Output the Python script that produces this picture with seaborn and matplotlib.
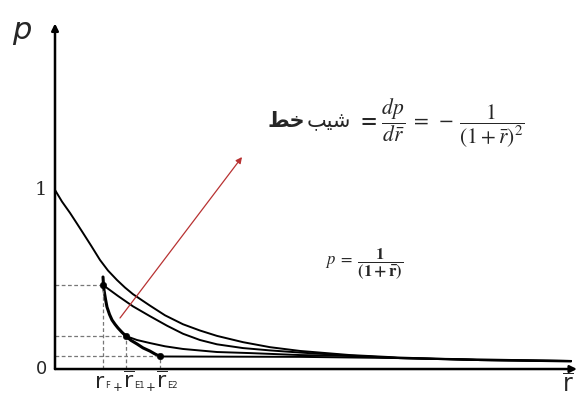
import numpy as np
import pandas as pd
import matplotlib
matplotlib.use("Agg")
import matplotlib.pyplot as plt
import seaborn as sns

# values (r in arbitrary units, p in units of p0)
main_r = [0.00, 0.07, 0.15, 0.22, 0.28, 0.36, 0.45, 0.53, 0.62, 0.70, 0.78,
          0.87, 0.95, 1.10, 1.28, 1.45, 1.62, 1.88, 2.15, 2.45, 2.95, 3.45,
          4.25, 5.16]
main_p = [1.000, 0.935, 0.872, 0.812, 0.760, 0.690, 0.609, 0.550, 0.497,
          0.455, 0.418, 0.384, 0.354, 0.300, 0.250, 0.215, 0.185, 0.150,
          0.122, 0.101, 0.078, 0.064, 0.050, 0.042]

f_r = [0.48, 0.63, 0.78, 0.95, 1.12, 1.28, 1.45, 1.62, 1.88, 2.15, 2.45,
       2.95, 3.45, 4.25, 5.16]
f_p = [0.469, 0.408, 0.350, 0.295, 0.242, 0.197, 0.162, 0.138, 0.117,
       0.104, 0.092, 0.075, 0.061, 0.050, 0.045]

e1_r = [0.71, 0.82, 0.95, 1.10, 1.28, 1.62, 1.95, 2.45, 2.95, 3.45, 4.25,
        5.16]
e1_p = [0.184, 0.162, 0.145, 0.127, 0.112, 0.095, 0.089, 0.078, 0.073,
        0.061, 0.050, 0.045]

e2_r = [1.05, 2.45, 3.45, 5.16]
e2_p = [0.070, 0.068, 0.061, 0.045]

thick_r = [0.48, 0.485, 0.49, 0.505, 0.52, 0.545, 0.57, 0.60, 0.63, 0.67,
           0.71, 0.76, 0.82, 0.88, 0.95, 1.00, 1.05]
thick_p = [0.514, 0.470, 0.441, 0.390, 0.346, 0.305, 0.274, 0.250, 0.229,
           0.205, 0.184, 0.160, 0.140, 0.118, 0.100, 0.084, 0.070]

pts_r = [0.48, 0.71, 1.05]
pts_p = [0.469, 0.184, 0.070]
lab_pre = ["", "+", "+"]
lab_main = [r"$\mathrm{r}$", r"$\overline{\mathrm{r}}$", r"$\overline{\mathrm{r}}$"]
lab_sub = ["F", "E1", "E2"]
lab_shift = [-2.2, 1.5, 0.8]

# Persian "شیب خط" in shaped glyph forms, laid out left to right
word_shib = "\uFE90\uFEF4\uFEB7"
word_khat = "\uFEC2\uFEA7"


def draw(ax):
    lines = [(main_r, main_p), (f_r, f_p), (e1_r, e1_p), (e2_r, e2_p)]
    for rr, pp in lines:
        sns.lineplot(x=rr, y=pp, ax=ax, color="black", lw=1.4,
                     sort=False, estimator=None)
    sns.lineplot(x=thick_r, y=thick_p, ax=ax, color="black", lw=2.2,
                 sort=False, estimator=None)
    sns.scatterplot(x=pts_r, y=pts_p, ax=ax, color="black", s=22,
                    edgecolor="black", zorder=5)

    # dashed guides
    for r, p in zip(pts_r, pts_p):
        ax.plot([0, r], [p, p], color="#777777", lw=0.9, dashes=(3, 2))
        ax.plot([r, r], [0, p], color="#777777", lw=0.9, dashes=(3, 2))

    # axes with arrows
    ax.annotate("", xy=(5.22, 0), xytext=(0, 0),
                arrowprops=dict(arrowstyle="-|>", color="black", lw=1.8,
                                mutation_scale=10, shrinkA=0, shrinkB=0))
    ax.annotate("", xy=(0, 1.93), xytext=(0, 0),
                arrowprops=dict(arrowstyle="-|>", color="black", lw=1.8,
                                mutation_scale=10, shrinkA=0, shrinkB=0))

    # tangent arrow
    ax.annotate("", xy=(1.87, 1.184), xytext=(0.65, 0.285),
                arrowprops=dict(arrowstyle="-|>", color="#b83232", lw=0.9,
                                mutation_scale=9, shrinkA=0, shrinkB=0))

    ax.text(-0.33, 1.89, "p", fontsize=22, style="italic", ha="center",
            va="center")
    ax.text(-0.08, 1.0, "1", fontsize=14, family="serif", ha="right",
            va="center")
    ax.text(-0.08, 0.0, "0", fontsize=13, ha="right", va="center")

    # point labels under the axis
    for r, pre, m, sub, dx in zip(pts_r, lab_pre, lab_main, lab_sub, lab_shift):
        ax.annotate(m, xy=(r, -0.07), xytext=(dx, 0),
                    textcoords="offset points", fontsize=16,
                    ha="center", va="center", math_fontfamily="dejavusans")
        ax.annotate(sub, xy=(r, -0.07), xytext=(dx + 4.0, -3),
                    textcoords="offset points", fontsize=6,
                    ha="left", va="center")
        if pre:
            ax.annotate(pre, xy=(r, -0.07), xytext=(dx - 3.6, -4),
                        textcoords="offset points", fontsize=8.5,
                        ha="right", va="center")
    ax.text(5.13, -0.09, r"$\overline{\mathrm{r}}$", fontsize=17,
            ha="center", va="center", math_fontfamily="dejavusans")

    # slope formula
    ax.text(2.96, 1.385, word_shib, fontsize=15, ha="right", va="center",
            family=["DejaVu Sans"])
    ax.text(2.50, 1.385, word_khat, fontsize=15, ha="right", va="center",
            family=["DejaVu Sans"], fontweight="bold")
    ax.text(3.02, 1.374,
            r"$\mathbf{=}\,\dfrac{dp}{d\bar{r}}\;=\;-\,\dfrac{1}{(1+\bar{r})^2}$",
            fontsize=15.5, ha="left", va="center", math_fontfamily="stix")
    ax.text(2.70, 0.59,
            r"$p\;=\;\dfrac{\mathbf{1}}{\mathbf{(1+\bar{r})}}$",
            fontsize=12, ha="left", va="center", math_fontfamily="stix")


def main():
    sns.set_theme(style="white")
    fig = plt.figure(figsize=(5.79, 4), dpi=100)
    ax = fig.add_axes([0, 0, 1, 1])
    draw(ax)
    ax.set_xlim(-0.55, 5.24)
    ax.set_ylim(-0.173, 2.061)
    ax.axis("off")
    fig.savefig("out.png", dpi=100)


if __name__ == "__main__":
    main()
